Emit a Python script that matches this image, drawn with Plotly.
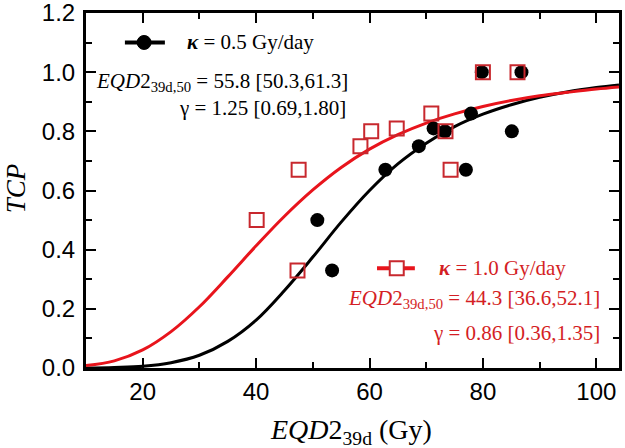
import plotly.graph_objects as go

# Observed data (kappa = 0.5 Gy/day, black; kappa = 1.0 Gy/day, red)
black_x = [50.8, 53.4, 62.8, 68.7, 71.3, 73.3, 77.0, 77.9, 79.8, 85.1, 86.8]
black_y = [0.50, 0.33, 0.67, 0.75, 0.81, 0.80, 0.67, 0.86, 1.00, 0.80, 1.00]
red_x = [40.1, 47.3, 47.5, 58.4, 60.3, 64.8, 70.9, 73.4, 74.3, 80.0, 86.1]
red_y = [0.50, 0.33, 0.67, 0.75, 0.80, 0.81, 0.86, 0.80, 0.67, 1.00, 1.00]

# Fitted curves
curve_x = [10, 15, 20, 25, 30, 35, 40, 45, 50, 55, 60, 65, 70, 75, 80, 85, 90, 95, 100, 104]
black_curve = [0.000, 0.002, 0.006, 0.018, 0.043, 0.090, 0.162, 0.262, 0.375, 0.493, 0.600,
               0.690, 0.760, 0.816, 0.858, 0.890, 0.915, 0.934, 0.948, 0.957]
red_curve = [0.008, 0.024, 0.061, 0.123, 0.207, 0.308, 0.413, 0.513, 0.602, 0.678, 0.740,
             0.789, 0.828, 0.859, 0.884, 0.904, 0.920, 0.932, 0.943, 0.950]

x_ticks = [20, 40, 60, 80, 100]
y_ticks = [0.0, 0.2, 0.4, 0.6, 0.8, 1.0, 1.2]

BLACK = "#000000"
RED_LINE = "#e8141c"
RED_MARK = "#c8282e"
RED_TEXT = "#d41e24"
SERIF = "Liberation Serif, Times New Roman, serif"
SANS = "Liberation Sans, Arial, sans-serif"

fig = go.Figure()
fig.add_trace(go.Scatter(x=curve_x, y=black_curve, mode="lines", line=dict(color=BLACK, width=3, shape="spline"),
                         showlegend=False))
fig.add_trace(go.Scatter(x=curve_x, y=red_curve, mode="lines", line=dict(color=RED_LINE, width=3, shape="spline"),
                         showlegend=False))
fig.add_trace(go.Scatter(x=black_x, y=black_y, mode="markers",
                         marker=dict(symbol="circle", size=14, color=BLACK), showlegend=False))
fig.add_trace(go.Scatter(x=red_x, y=red_y, mode="markers",
                         marker=dict(symbol="square-open", size=14, color=RED_MARK, line=dict(width=2)),
                         showlegend=False))

# Legend-like annotations
shapes = [
    dict(type="line", xref="paper", yref="paper", x0=0.073, x1=0.148, y0=0.917, y1=0.917,
         line=dict(color=BLACK, width=4)),
    dict(type="circle", xref="paper", yref="paper", xsizemode="pixel", ysizemode="pixel",
         xanchor=0.109, yanchor=0.917, x0=-7, x1=7, y0=-7, y1=7,
         fillcolor=BLACK, line=dict(color=BLACK, width=1)),
    dict(type="line", xref="paper", yref="paper", x0=0.546, x1=0.617, y0=0.281, y1=0.281,
         line=dict(color=RED_LINE, width=4)),
    dict(type="rect", xref="paper", yref="paper", xsizemode="pixel", ysizemode="pixel",
         xanchor=0.583, yanchor=0.281, x0=-7, x1=7, y0=-7, y1=7,
         fillcolor="white", line=dict(color=RED_MARK, width=2)),
]

ann = []
def txt(s, x, y, xanchor, color, size=21):
    ann.append(dict(text=s, x=x, y=y, xref="paper", yref="paper", xanchor=xanchor, yanchor="middle",
                    showarrow=False, font=dict(family=SERIF, size=size, color=color)))

txt("<b><i>κ</i></b> = 0.5 Gy/day", 0.186, 0.917, "left", BLACK)
txt("<i>EQD</i>2<sub>39d,50</sub> = 55.8 [50.3,61.3]", 0.495, 0.806, "right", BLACK)
txt("γ = 1.25 [0.69,1.80]", 0.492, 0.731, "right", BLACK)
txt("<b><i>κ</i></b> = 1.0 Gy/day", 0.658, 0.281, "left", RED_TEXT)
txt("<i>EQD</i>2<sub>39d,50</sub> = 44.3 [36.6,52.1]", 0.968, 0.194, "right", RED_TEXT)
txt("γ = 0.86 [0.36,1.35]", 0.968, 0.100, "right", RED_TEXT)

# Axis titles
txt("<i>EQD</i>2<sub>39d</sub> (Gy)", 0.497, -0.178, "center", BLACK, size=28)
ann.append(dict(text="<i>TCP</i>", x=-0.131, y=0.507, xref="paper", yref="paper", xanchor="center",
                yanchor="middle", showarrow=False, textangle=-90,
                font=dict(family=SERIF, size=27, color=BLACK)))

axis_common = dict(showline=True, linecolor=BLACK, linewidth=3, mirror="ticks", ticks="inside",
                   ticklen=10, tickwidth=2, tickcolor=BLACK, showgrid=False, zeroline=False,
                   automargin=False, ticklabeloverflow="allow",
                   tickfont=dict(family=SANS, size=24, color=BLACK))

fig.update_layout(
    width=625, height=448,
    margin=dict(l=86, r=6, t=13, b=80),
    plot_bgcolor="white", paper_bgcolor="white",
    shapes=shapes, annotations=ann,
    xaxis=dict(range=[10, 104], tickvals=x_ticks, ticktext=[str(v) for v in x_ticks], ticklabelstandoff=0,
               minor=dict(dtick=10, tick0=0, ticks="inside", ticklen=6, tickwidth=2, tickcolor=BLACK),
               **axis_common),
    yaxis=dict(range=[0, 1.2], tickvals=y_ticks, ticktext=[f"{v:.1f}" for v in y_ticks], ticklabelstandoff=3,
               minor=dict(dtick=0.1, tick0=0, ticks="inside", ticklen=6, tickwidth=2, tickcolor=BLACK),
               **axis_common),
)

fig.write_html("out.html", config={"displayModeBar": False},
               post_script="document.body.style.margin='0';")
